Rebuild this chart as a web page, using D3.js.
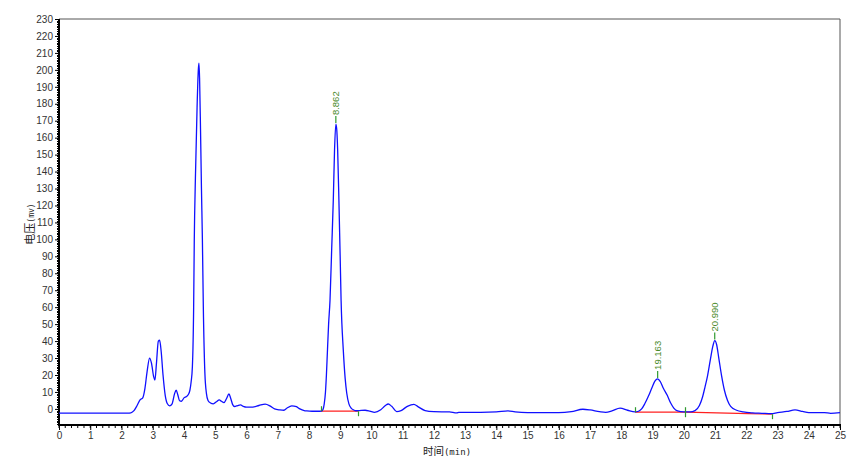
<!DOCTYPE html>
<html><head><meta charset="utf-8">
<script src="https://cdn.jsdelivr.net/npm/d3@7"></script>
<style>body{margin:0;background:#fff}svg{display:block}</style>
</head><body>
<svg id="c" width="865" height="472"></svg>
<script>
// ---- data ----
const times = [0,1,2,2.2,2.3,2.4,2.5,2.6,2.68,2.75,2.82,2.9,2.96,3.03,3.07,3.12,3.18,3.22,3.27,3.33,3.4,3.47,3.54,3.62,3.7,3.75,3.8,3.86,3.92,4.0,4.08,4.14,4.19,4.23,4.27,4.31,4.33,4.37,4.42,4.46,4.48,4.5,4.53,4.56,4.59,4.62,4.67,4.72,4.77,4.85,4.94,5.04,5.13,5.2,5.28,5.36,5.44,5.5,5.56,5.62,5.72,5.81,5.9,6.0,6.2,6.4,6.6,6.75,6.9,7.07,7.2,7.3,7.45,7.6,7.71,7.85,7.93,8.1,8.3,8.4,8.45,8.49,8.53,8.56,8.59,8.63,8.675,8.73,8.78,8.82,8.862,8.89,8.92,8.96,9.0,9.03,9.1,9.16,9.21,9.28,9.35,9.42,9.5,9.61,9.8,9.95,10.1,10.3,10.45,10.54,10.65,10.81,10.95,11.15,11.36,11.5,11.72,12.0,12.5,12.73,12.8,13.5,14.0,14.37,14.6,15,16,16.4,16.77,17.0,17.3,17.5,17.7,17.96,18.2,18.44,18.55,18.65,18.75,18.88,18.98,19.08,19.163,19.25,19.35,19.47,19.58,19.68,19.8,20.0,20.2,20.36,20.5,20.6,20.68,20.76,20.85,20.93,20.99,21.05,21.12,21.21,21.3,21.4,21.5,21.69,21.9,22.2,22.5,22.8,23.0,23.3,23.56,23.8,24.0,24.5,24.7,25];
const signal = [-2.5,-2.5,-2.5,-2.5,-2.3,-1,2,5.5,6.5,12,22,30,27,19,17,27,40,40.5,34,20,8,3,1.8,3,9,11,8.5,4.8,4.5,6.5,7.3,8.5,11,16,25,60,99,139,178,200,204,195,165,130,100,60,21,9,5,3.5,3,4.2,5.3,4.5,3.7,6,8.8,6,2.5,1.4,2,2.4,1.5,1.0,1.1,2,2.8,1.8,0,-0.6,-0.8,0.5,1.8,1.3,0,-1,-1.2,-1.4,-1.4,-1.3,-0.3,3,10,20,33,50,64,95,123,152.7,168,165,152.7,123,90,64,34.8,18,9.4,3,0.5,-0.5,-1.1,-1,-0.8,-1.3,-2,-0.5,2,2.9,1.5,-1.6,-1,1.5,2.7,1.2,-1,-1.6,-1.8,-2.4,-2,-2,-1.8,-1.2,-1.8,-2.2,-2.2,-1.6,-0.2,-0.6,-1.6,-2,-1.2,0.4,-0.8,-1.8,-1.4,0,3,8,12.5,16.5,17.7,16,12,8,3.5,0.5,-1.2,-1.8,-1.8,-1,2,7,13,19.5,29,37,40.3,38,30,19.5,11,5,1.5,-0.8,-1.8,-2.4,-2.6,-2.8,-2.2,-1.5,-0.6,-1.5,-2.2,-2.2,-2.6,-2.2];

const peakLabels = ["8.862","19.163","20.990"];
const peakTimes = [8.862, 19.163, 20.990];
const peakValues = [168, 17.7, 40.3];

const baseline1T = [8.38, 9.58];
const baseline1V = [-1.36, -1.36];
const baseline2T = [18.44, 20.04, 20.73, 22.05, 22.82];
const baseline2V = [-1.95, -1.95, -2.2, -2.8, -3.1];

const markTimes = [8.38, 9.58, 18.44, 20.04, 22.82];
const markValues = [-1.36, -1.36, -1.95, -1.95, -3.1];
const markDirs = ["up", "down", "up", "both", "down"];

const xTicks = d3.range(0, 26, 1);
const yTicks = d3.range(0, 231, 10);
const xLabel = "时间";
const xUnit = "(min)";
const yLabel = "电压";
const yUnit = "(mv)";

// ---- chart ----
const svg = d3.select("#c");
const L = 59, R = 840, T = 19, B = 425;
const x = d3.scaleLinear().domain([0, 25]).range([L, R]);
const y = d3.scaleLinear().domain([-9.5, 230]).range([B, T]);
const font = "'Liberation Sans', Arial, sans-serif";

// frame (top & right)
svg.append("path")
  .attr("d", `M${L},${T}H${R}V${B}`)
  .attr("fill", "none").attr("stroke", "#555").attr("stroke-width", 1);

// minor ticks
const gx = svg.append("g");
gx.selectAll("line.mx").data(d3.range(0, 125.5, 1).map(d => d / 5)).join("line")
  .attr("x1", d => x(d)).attr("x2", d => x(d))
  .attr("y1", B).attr("y2", B + 3)
  .attr("stroke", "#000").attr("stroke-width", 1);
const gy = svg.append("g");
gy.selectAll("line.my").data(d3.range(-9, 231, 1)).join("line")
  .attr("x1", L - 2).attr("x2", L)
  .attr("y1", d => Math.round(y(d)) + 0.5).attr("y2", d => Math.round(y(d)) + 0.5)
  .attr("stroke", "#000").attr("stroke-width", 1);

// axes
const xAxis = d3.axisBottom(x).tickValues(xTicks).tickSize(5).tickPadding(2).tickFormat(d3.format("d"));
const ax = svg.append("g").attr("transform", `translate(0,${B})`).call(xAxis);
const yAxis = d3.axisLeft(y).tickValues(yTicks).tickSize(4).tickPadding(2).tickFormat(d3.format("d"));
const ay = svg.append("g").attr("transform", `translate(${L},0)`).call(yAxis);
[ax, ay].forEach(g => {
  g.select(".domain").remove();
  g.selectAll("text").attr("font-family", font).attr("font-size", 10).attr("fill", "#333");
  g.selectAll(".tick line").attr("stroke", "#000");
});
svg.append("line").attr("x1", L).attr("x2", R + 1).attr("y1", B).attr("y2", B)
  .attr("stroke", "#000").attr("stroke-width", 2);
svg.append("line").attr("x1", L).attr("x2", L).attr("y1", T).attr("y2", B + 1)
  .attr("stroke", "#000").attr("stroke-width", 2);

// axis titles
const xt = svg.append("text").attr("x", 447).attr("y", 455).attr("text-anchor", "middle")
  .attr("font-family", "'Noto Sans CJK SC', sans-serif").attr("fill", "#222");
xt.append("tspan").attr("font-size", 10.5).text(xLabel);
xt.append("tspan").attr("font-size", 9).attr("font-family", "'DejaVu Sans Mono', monospace").text(xUnit);
const yt = svg.append("text").attr("transform", "translate(34,224) rotate(-90)").attr("text-anchor", "middle")
  .attr("font-family", "'Noto Sans CJK SC', sans-serif").attr("fill", "#222");
yt.append("tspan").attr("font-size", 11).text(yLabel);
yt.append("tspan").attr("font-size", 8).attr("font-family", "'DejaVu Sans Mono', monospace").text(yUnit);

// baselines
const bl = d3.line().x(d => x(d[0])).y(d => y(d[1]));
[[baseline1T, baseline1V], [baseline2T, baseline2V]].forEach(([ts, vs]) => {
  svg.append("path").attr("d", bl(ts.map((t, i) => [t, vs[i]])))
    .attr("fill", "none").attr("stroke", "#ff2020").attr("stroke-width", 1.2);
});

// signal
const line = d3.line().x((d, i) => x(times[i])).y(d => y(d)).curve(d3.curveMonotoneX);
svg.append("path").attr("d", line(signal))
  .attr("fill", "none").attr("stroke", "#1010ff").attr("stroke-width", 1.3);

// boundary marks
const green = "#2e9a2e";
markTimes.forEach((t, i) => {
  const px = Math.round(x(t)) + 0.5, py = y(markValues[i]);
  const d = markDirs[i];
  const y1 = d === "down" ? py : py - 5;
  const y2 = d === "up" ? py : py + 5;
  svg.append("line").attr("x1", px).attr("x2", px).attr("y1", y1).attr("y2", y2)
    .attr("stroke", green).attr("stroke-width", 1.2);
});

// peak labels
peakTimes.forEach((t, i) => {
  const px = x(t), py = y(peakValues[i]);
  svg.append("line").attr("x1", px).attr("x2", px).attr("y1", py - 1).attr("y2", py - 8)
    .attr("stroke", green).attr("stroke-width", 1.2);
  svg.append("text").attr("transform", `translate(${px + 3.5},${py - 9}) rotate(-90)`)
    .attr("text-anchor", "start").attr("font-family", font).attr("font-size", 9.5)
    .attr("fill", "#4a8a2a").text(peakLabels[i]);
});
</script>
</body></html>
